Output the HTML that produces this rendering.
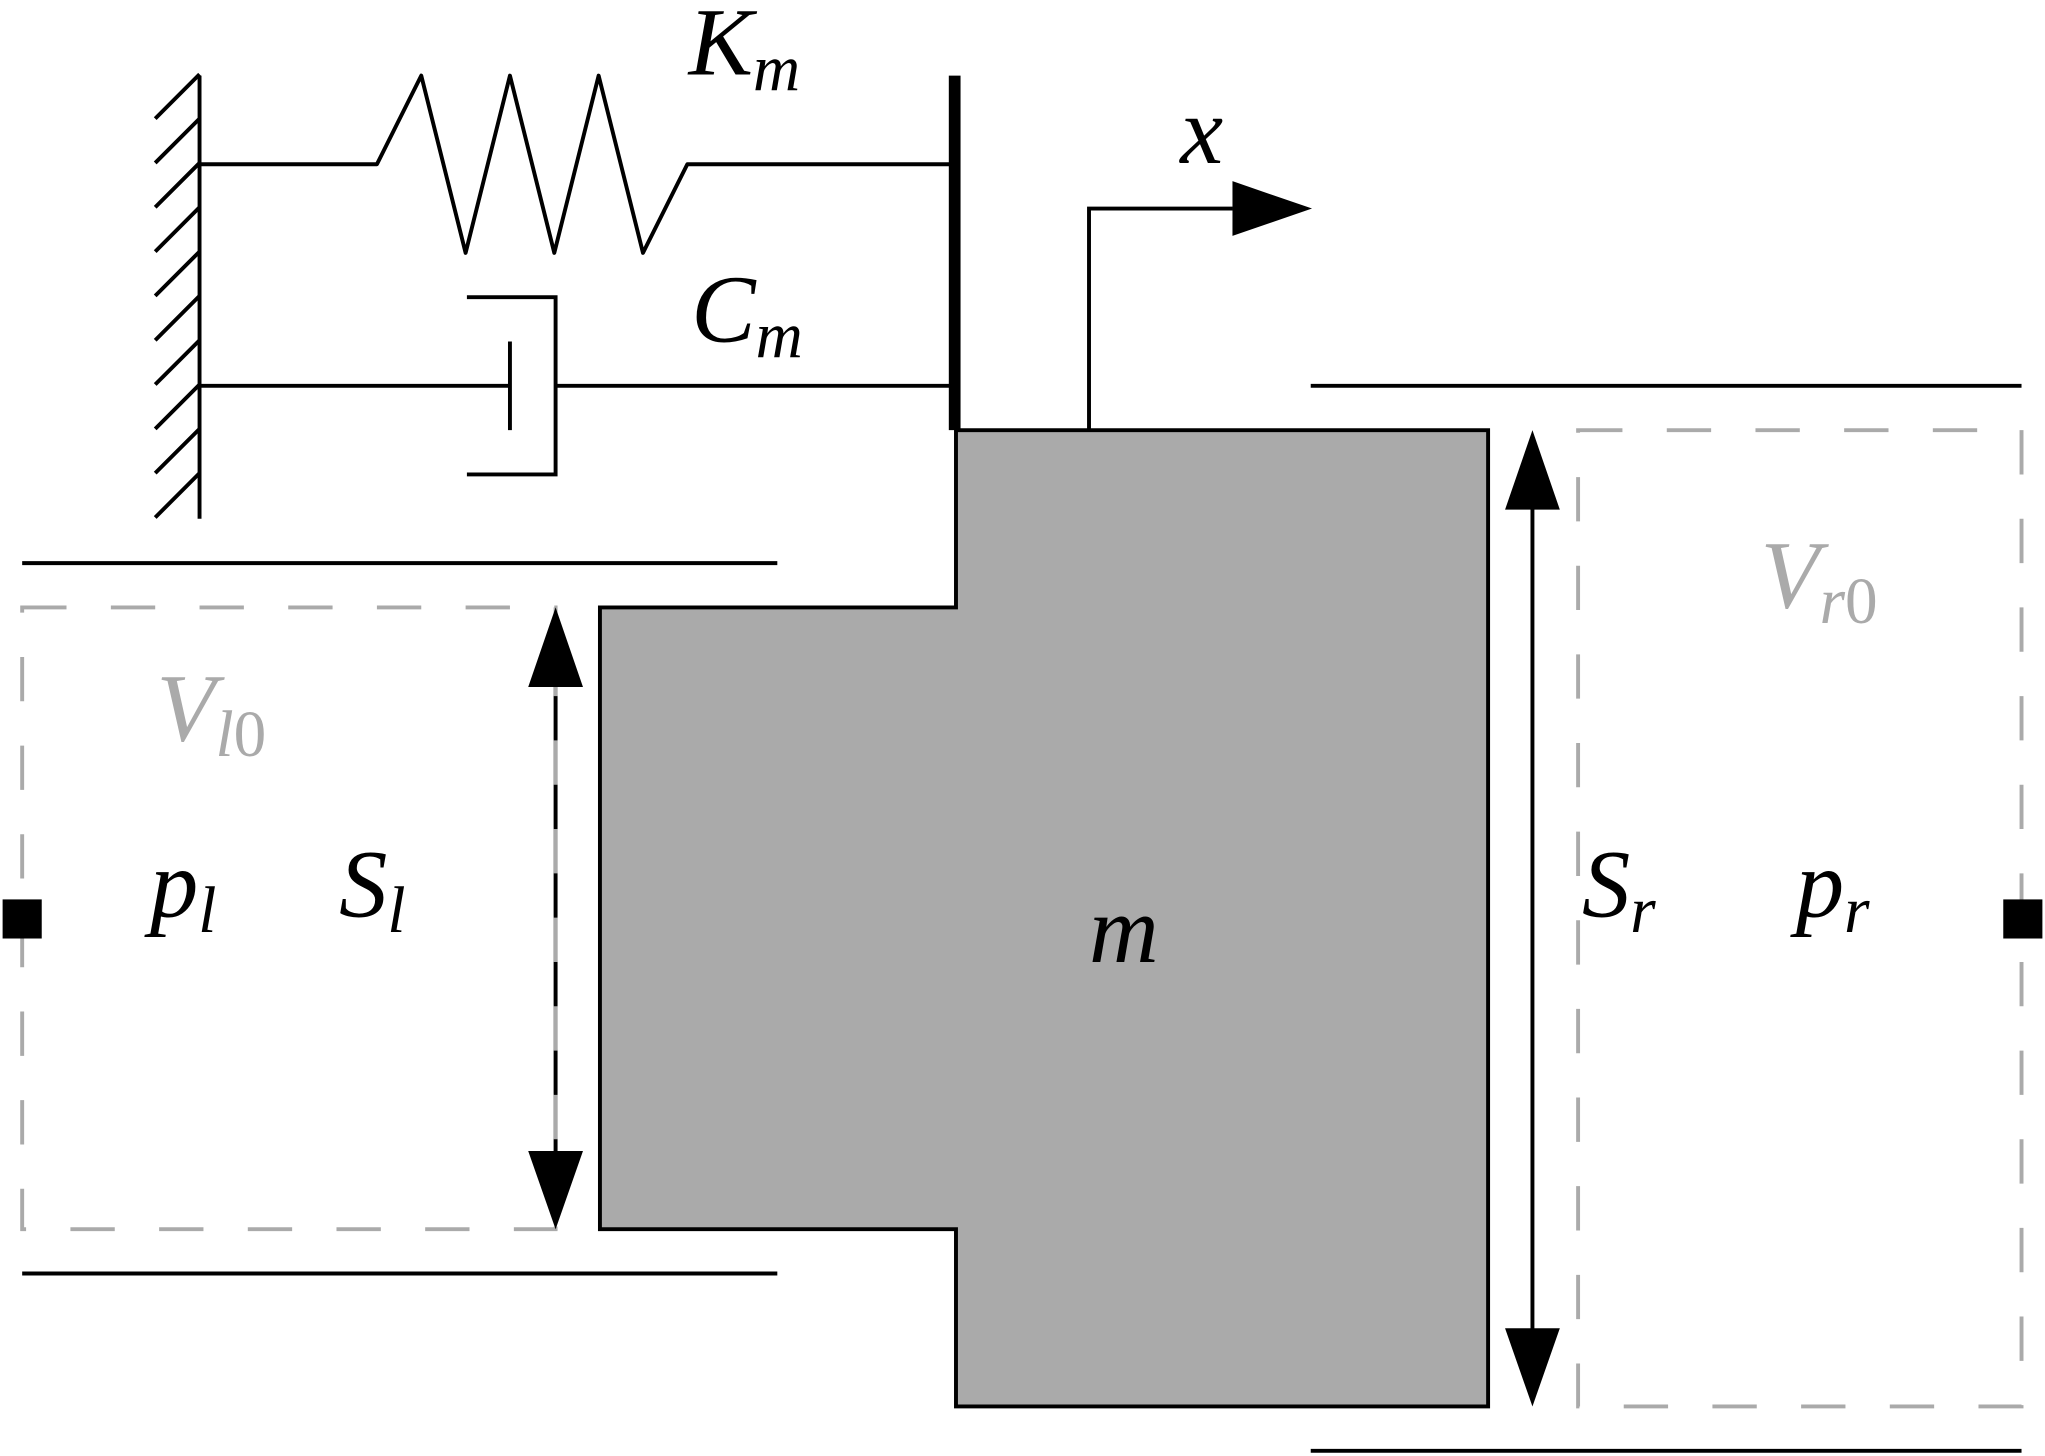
<!DOCTYPE html>
<html><head><meta charset="utf-8"><style>
html,body{margin:0;padding:0;background:#fff;}
svg{display:block;}
text{font-family:"Liberation Serif","DejaVu Serif",serif;font-style:italic;}
</style></head><body>
<svg width="2045" height="1456" viewBox="0 0 1568 1117" preserveAspectRatio="none" xmlns="http://www.w3.org/2000/svg">
<rect width="1568" height="1117" fill="#fff"/>
<g stroke="#000" stroke-width="3" fill="none">
<line x1="153" y1="58" x2="153" y2="398"/>
<path d="M119 91L153 57M119 125L153 91M119 159L153 125M119 193L153 159M119 227L153 193M119 261L153 227M119 295L153 261M119 329L153 295M119 363L153 329M119 397L153 363"/>
</g>
<polyline points="153,126 289,126 323,58 357,194 391,58 425,194 459,58 493,194 527,126 729,126" fill="none" stroke="#000" stroke-width="3" stroke-linejoin="round"/>
<g stroke="#000" stroke-width="3" fill="none">
<line x1="153" y1="296" x2="391" y2="296"/>
<line x1="391" y1="262" x2="391" y2="330"/>
<polyline points="358,228 426,228 426,364 358,364"/>
<line x1="426" y1="296" x2="729" y2="296"/>
</g>
<line x1="732" y1="58" x2="732" y2="330" stroke="#000" stroke-width="9"/>
<polygon points="733,330 1141,330 1141,1079 733,1079 733,943 460,943 460,466 733,466" fill="#aaaaaa" stroke="#000" stroke-width="3"/>
<g>
<polyline points="835,330 835,160 945,160" fill="none" stroke="#000" stroke-width="3"/>
<polygon points="945,139 1006,160 945,181" fill="#000"/>
</g>
<g stroke="#000" stroke-width="3">
<line x1="17" y1="432" x2="596" y2="432"/>
<line x1="17" y1="977" x2="596" y2="977"/>
<line x1="1005" y1="296" x2="1550" y2="296"/>
<line x1="1005" y1="1113" x2="1550" y2="1113"/>
</g>
<rect x="17" y="466" width="409" height="477" fill="none" stroke="#aaa" stroke-width="3" stroke-dasharray="34,34"/>
<rect x="1210" y="330" width="340" height="749" fill="none" stroke="#aaa" stroke-width="3" stroke-dasharray="34,34"/>
<g>
<line x1="426" y1="500" x2="426" y2="910" stroke="#000" stroke-width="3"/>
<line x1="426" y1="500" x2="426" y2="910" stroke="#aaa" stroke-width="3" stroke-dasharray="34,34"/>
<polygon points="426,466 405,527 447,527" fill="#000"/>
<polygon points="426,943 405,883 447,883" fill="#000"/>
</g>
<g>
<line x1="1175" y1="360" x2="1175" y2="1050" stroke="#000" stroke-width="3"/>
<polygon points="1175,330 1154,391 1196,391" fill="#000"/>
<polygon points="1175,1079 1154,1019 1196,1019" fill="#000"/>
</g>
<rect x="2" y="690" width="30" height="30" fill="#000"/>
<rect x="1536" y="690" width="30" height="30" fill="#000"/>
<text x="528" y="57" font-size="74">K<tspan font-size="50" dy="12">m</tspan></text>
<text x="530" y="262" font-size="74">C<tspan font-size="50" dy="12">m</tspan></text>
<text x="905" y="125" font-size="74">x</text>
<text x="120" y="568" font-size="74" fill="#aaa">V<tspan font-size="50" dy="12">l</tspan><tspan font-size="50" font-style="normal">0</tspan></text>
<text x="115" y="703" font-size="74">p<tspan font-size="50" dy="12">l</tspan></text>
<text x="260" y="703" font-size="74">S<tspan font-size="50" dy="12">l</tspan></text>
<text x="835" y="738" font-size="74">m</text>
<text x="1213" y="703" font-size="74">S<tspan font-size="50" dy="12">r</tspan></text>
<text x="1377" y="703" font-size="74">p<tspan font-size="50" dy="12">r</tspan></text>
<text x="1350" y="466" font-size="74" fill="#aaa">V<tspan font-size="50" dy="12">r</tspan><tspan font-size="50" font-style="normal">0</tspan></text>
</svg>
</body></html>
